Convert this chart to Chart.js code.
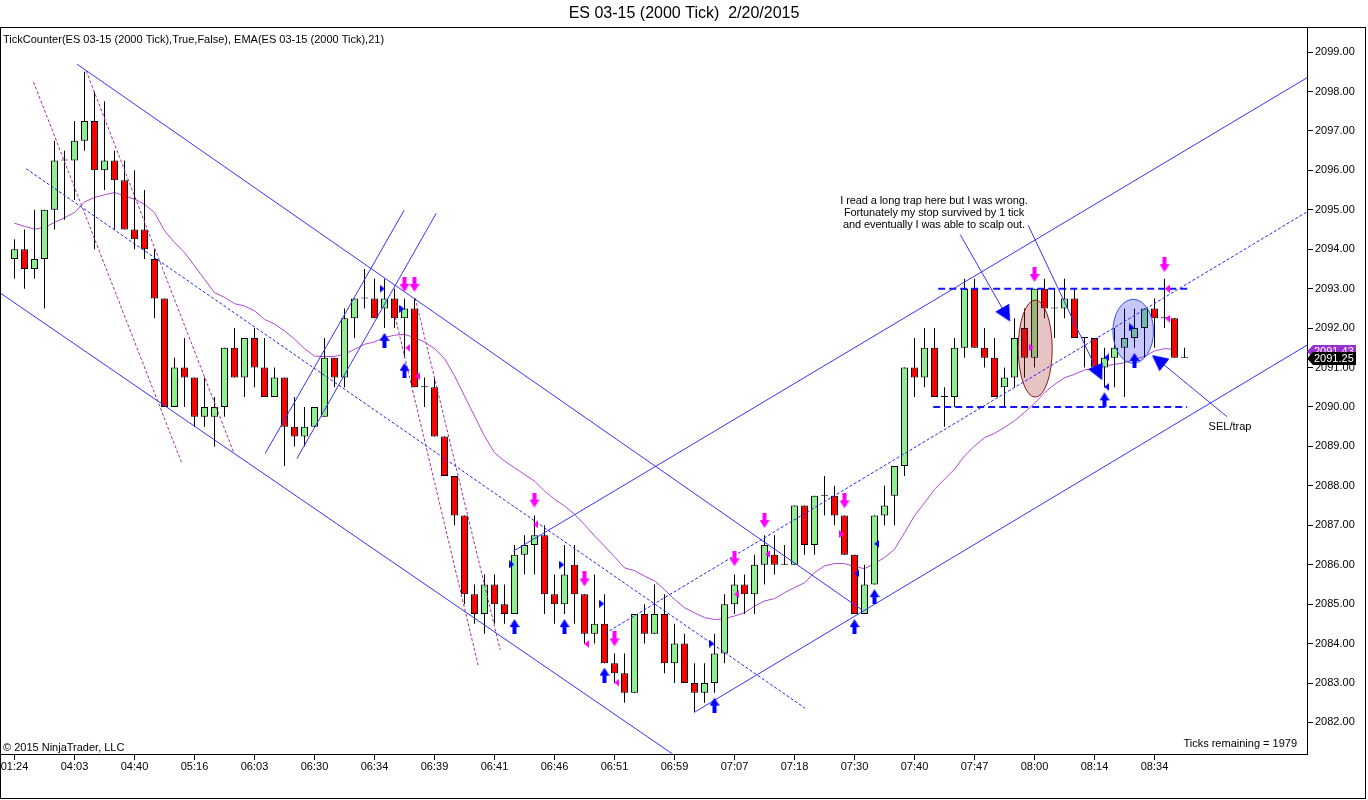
<!DOCTYPE html>
<html><head><meta charset="utf-8">
<script src="https://cdn.jsdelivr.net/npm/chart.js@4.4.1/dist/chart.umd.min.js"></script>
<style>html,body{margin:0;padding:0;background:#fff;overflow:hidden}canvas{display:block}</style>
</head><body>
<canvas id="c" width="1368" height="800"></canvas>
<script>
// ---------- DATA ----------
const chartTitle = 'ES 03-15 (2000 Tick)  2/20/2015';
const timeLabels = ['01:24','04:03','04:40','05:16','06:03','06:30','06:34','06:39','06:41','06:46','06:51','06:59','07:07','07:18','07:30','07:40','07:47','08:00','08:14','08:34'];
const labelStep = 6;

const opens = [2093.75,2094.0,2093.5,2093.75,2095.0,2096.25,2096.25,2096.75,2097.25,2096.0,
2096.25,2095.75,2094.5,2094.5,2093.75,2092.75,2090.0,2091.0,2090.75,2089.75,
2089.75,2090.0,2091.5,2090.75,2091.75,2091.0,2090.25,2090.75,2089.5,2089.25,
2089.5,2089.75,2091.25,2090.75,2092.25,2092.75,2092.75,2092.5,2092.75,2092.25,
2092.5,2090.5,2090.5,2089.25,2088.25,2087.25,2085.25,2084.75,2085.5,2085.0,
2084.75,2086.25,2086.5,2086.75,2085.25,2085.0,2086.0,2085.25,2084.25,2084.5,
2083.5,2083.25,2082.75,2084.75,2084.25,2084.75,2083.5,2084.0,2083.0,2082.75,
2083.0,2083.75,2085.0,2085.5,2085.25,2086.0,2086.25,2086.0,2086.0,2087.5,
2086.5,2087.75,2087.75,2087.25,2086.25,2084.75,2085.5,2087.25,2087.75,2088.5,
2091.0,2090.75,2091.5,2090.25,2090.25,2091.5,2093.0,2091.5,2091.25,2090.5,
2090.75,2092.0,2091.25,2093.0,2092.5,2092.5,2092.75,2091.75,2091.75,2091.0,
2091.25,2091.5,2091.75,2092.0,2092.5,2092.25,2092.25,2091.25];
const highs = [2094.25,2094.5,2095.0,2095.0,2096.75,2096.5,2097.25,2098.5,2098.0,2097.75,
2096.5,2096.25,2096.0,2095.5,2094.0,2092.75,2091.25,2091.75,2090.75,2090.75,
2090.25,2091.5,2092.0,2091.75,2092.0,2091.75,2091.0,2090.75,2090.25,2090.0,
2090.0,2091.75,2091.25,2092.5,2092.75,2093.5,2093.25,2093.25,2093.0,2092.75,
2092.75,2090.75,2090.75,2089.25,2088.25,2087.25,2085.5,2085.75,2085.75,2085.5,
2086.5,2086.75,2087.25,2087.0,2085.75,2086.5,2086.5,2085.25,2085.75,2085.25,
2083.75,2083.75,2084.75,2085.0,2085.5,2085.25,2084.5,2084.25,2083.5,2083.5,
2084.25,2085.25,2085.75,2085.75,2086.25,2086.75,2086.75,2086.5,2087.5,2087.5,
2087.75,2088.25,2088.0,2087.25,2086.25,2086.0,2087.25,2088.0,2088.5,2091.0,
2091.75,2092.0,2092.0,2090.5,2091.75,2093.25,2093.25,2092.0,2091.75,2091.0,
2092.25,2092.5,2093.0,2093.25,2093.0,2093.25,2093.0,2091.75,2091.75,2091.5,
2092.0,2092.5,2092.5,2092.5,2092.75,2093.25,2092.25,2091.5];
const lows = [2093.25,2093.0,2093.25,2092.5,2094.5,2094.75,2095.25,2096.5,2094.0,2095.5,
2094.5,2094.5,2094.0,2093.75,2092.25,2090.0,2090.0,2090.0,2089.5,2089.5,
2089.0,2089.75,2090.75,2090.25,2090.5,2090.25,2090.25,2088.5,2089.0,2089.0,
2089.5,2089.75,2090.5,2090.5,2091.75,2092.5,2092.25,2092.0,2092.0,2091.25,
2090.5,2090.0,2089.25,2088.25,2087.0,2085.0,2084.5,2084.25,2084.5,2084.5,
2084.75,2085.75,2085.75,2084.75,2084.5,2084.75,2084.5,2084.0,2084.0,2083.5,
2083.0,2082.5,2082.75,2084.0,2084.25,2083.25,2083.0,2083.0,2082.25,2082.5,
2082.75,2083.5,2084.75,2084.75,2084.75,2085.5,2085.75,2086.0,2086.0,2086.25,
2086.25,2087.25,2087.0,2086.25,2084.75,2084.75,2085.5,2087.0,2087.0,2088.25,
2090.25,2090.5,2090.25,2089.5,2090.0,2091.25,2091.5,2091.0,2090.25,2090.0,
2090.5,2090.75,2091.0,2092.25,2091.75,2092.25,2091.75,2091.0,2091.0,2090.5,
2090.5,2090.25,2091.5,2091.25,2091.5,2092.0,2091.25,2091.25];
const closes = [2094.0,2093.5,2093.75,2095.0,2096.25,2096.25,2096.75,2097.25,2096.0,2096.25,
2095.75,2094.5,2094.25,2094.0,2092.75,2090.0,2091.0,2090.75,2089.75,2090.0,
2090.0,2091.5,2090.75,2091.75,2091.0,2090.25,2090.75,2089.5,2089.25,2089.5,
2090.0,2091.25,2090.75,2092.25,2092.75,2092.75,2092.25,2092.75,2092.25,2092.5,
2090.5,2090.5,2089.25,2088.25,2087.25,2085.25,2084.75,2085.5,2085.0,2084.75,
2086.25,2086.5,2086.75,2085.25,2085.0,2085.75,2085.25,2084.25,2084.5,2083.5,
2083.25,2082.75,2084.75,2084.25,2084.75,2083.5,2084.0,2083.0,2082.75,2083.0,
2083.75,2085.0,2085.5,2085.25,2086.0,2086.5,2086.0,2086.0,2087.5,2086.5,
2087.75,2087.75,2087.25,2086.25,2084.75,2085.5,2087.25,2087.5,2088.5,2091.0,
2090.75,2091.5,2090.25,2090.25,2091.5,2093.0,2091.5,2091.25,2090.25,2090.75,
2091.75,2091.25,2093.0,2092.5,2092.5,2092.75,2091.75,2091.75,2091.0,2091.25,
2091.5,2091.75,2092.0,2092.5,2092.25,2092.25,2091.25,2091.25];
const ema21 = [2094.66,2094.58,2094.51,2094.55,2094.68,2094.80,2094.93,2095.20,2095.31,2095.38,
2095.44,2095.35,2095.27,2095.14,2094.93,2094.47,2094.17,2093.92,2093.58,2093.24,
2092.90,2092.78,2092.62,2092.56,2092.44,2092.22,2092.10,2091.93,2091.72,2091.48,
2091.29,2091.28,2091.28,2091.34,2091.46,2091.59,2091.65,2091.76,2091.82,2091.84,
2091.76,2091.65,2091.48,2091.23,2090.79,2090.28,2089.77,2089.26,2088.84,2088.63,
2088.46,2088.29,2088.12,2087.87,2087.66,2087.49,2087.28,2087.02,2086.73,2086.47,
2086.20,2085.92,2085.85,2085.71,2085.59,2085.37,2085.12,2084.91,2084.78,2084.66,
2084.61,2084.63,2084.70,2084.78,2084.95,2085.08,2085.14,2085.29,2085.42,2085.54,
2085.80,2085.97,2086.03,2086.03,2085.95,2085.90,2086.03,2086.18,2086.39,2086.81,
2087.24,2087.57,2087.91,2088.17,2088.42,2088.76,2089.01,2089.22,2089.33,2089.48,
2089.65,2089.86,2090.09,2090.36,2090.57,2090.74,2090.83,2090.94,2090.98,2091.04,
2091.08,2091.12,2091.21,2091.28,2091.42,2091.48,2091.46];
const emaLastValue = 2091.43;

// markers: [bar index, price]
const sellArrows = [[39,2093.11],[40,2093.11],[52,2087.64],[57,2085.64],[60,2084.12],[72,2086.15],[75,2087.12],[83,2087.62],[102,2093.36],[115,2093.61]];
const buyArrows = [[37,2091.69],[39,2090.93],[50,2084.43],[55,2084.43],[59,2083.2],[70,2082.44],[84,2084.43],[86,2085.19],[109,2090.18],[112,2091.18]];
const blueRightTri = [[36.77,2093.0],[38.72,2092.49],[49.72,2086.01],[54.72,2086.0],[58.72,2085.01],[69.72,2084.0],[111.72,2092.02]];
const blueLeftTri = [[84.22,2085.78],[86.22,2086.53],[109.22,2091.26],[109.22,2090.51]];
const magLeftTri = [[39.32,2091.5],[40.32,2090.78],[52.12,2087.02],[57.22,2083.99],[60.22,2083.01],[72.22,2085.25],[75.32,2086.27],[115.27,2093.0],[115.32,2092.24]];
const magRightTri = [[82.72,2086.78],[101.67,2091.51]];

// drawn lines: endpoints [bar index, price]
const downUpper = [[6.27,2098.69],[84.77,2084.85]];
const downLower = [[-1.43,2092.89],[65.81,2081.2]];
const downMid = [[1.17,2096.04],[79.07,2082.36]];
const magLineA = [[1.9,2098.24],[16.74,2088.57]];
const magLineB = [[7.17,2098.52],[21.9,2088.86]];
const magLineC = [[38.07,2092.28],[46.4,2083.41]];
const magLineD = [[40.07,2092.76],[48.57,2083.84]];
const steepE = [[25.07,2088.82],[38.97,2094.99]];
const steepF = [[28.24,2088.69],[42.17,2094.91]];
const upUpper = [[49.87,2086.34],[129.27,2098.35]];
const upLower = [[68.07,2082.27],[129.27,2091.57]];
const upMid = [[59.07,2084.26],[129.27,2094.95]];
const rangeHigh = [[92.37,2093.0],[117.57,2093.0]];
const rangeLow = [[91.87,2090.0],[117.27,2090.0]];
const noteLine1 = [[94.57,2094.37],[99.17,2092.33]];
const noteLine2 = [[101.37,2094.61],[108.37,2090.86]];
const noteLine3 = [[121.27,2089.75],[114.37,2091.19]];
const arrowHeads = [[99.17,2092.34],[108.43,2090.86],[114.37,2091.19]];
const arrowHeadAngles = [60.4,64.7,218.3];
// ellipses: [center index, center price, half width (bars), half height (points)]
const ellipseBrown = [102.07,2091.48,1.7,1.23];
const ellipseBlue = [111.87,2091.92,2.03,0.81];

const noteText = ['I read a long trap here but I was wrong.','Fortunately my stop survived by 1 tick','and eventually I was able to scalp out.'];
const indicatorText = 'TickCounter(ES 03-15 (2000 Tick),True,False), EMA(ES 03-15 (2000 Tick),21)';

// ---------- BUILD ----------
const FONT = '"Liberation Sans", Arial, sans-serif';
Chart.defaults.font.family = FONT;
const idx = opens.map((_, i) => i);
const pts = a => a.map(p => ({x: p[0], y: p[1]}));
const bodyColors = idx.map(i => closes[i] > opens[i] ? '#90EE90' : (closes[i] < opens[i] ? '#FF0000' : '#000000'));

function mk(w, h, fn) { const c = document.createElement('canvas'); c.width = w; c.height = h; const g = c.getContext('2d'); fn(g); return c; }
const poly = (g, color, p) => { g.fillStyle = color; g.beginPath(); g.moveTo(p[0][0], p[0][1]); for (let k = 1; k < p.length; k++) g.lineTo(p[k][0], p[k][1]); g.closePath(); g.fill(); };
const imgDown = mk(10, 15, g => poly(g, '#FF00FF', [[3,0],[7,0],[7,7],[10,7],[5,15],[0,7],[3,7]]));
const imgUp = mk(10, 15, g => poly(g, '#0000FF', [[3,15],[7,15],[7,8],[10,8],[5,0],[0,8],[3,8]]));
const imgBlueR = mk(5, 8, g => poly(g, '#0000FF', [[0,0],[5,4],[0,8]]));
const imgBlueL = mk(5, 8, g => poly(g, '#0000FF', [[5,0],[0,4],[5,8]]));
const imgMagL = mk(5, 8, g => poly(g, '#FF00FF', [[5,0],[0,4],[5,8]]));
const imgMagR = mk(5, 8, g => poly(g, '#FF00FF', [[0,0],[5,4],[0,8]]));
const imgHead = mk(16, 16, g => poly(g, '#0000FF', [[0,0],[16,8],[0,16]]));

const lineDs = (data, color, dash, width) => ({type: 'line', data: pts(data), borderColor: color, borderWidth: width || 1, borderDash: dash || [], pointRadius: 0, fill: false, tension: 0, order: 1});
const markDs = (data, img, rot) => ({type: 'line', data: pts(data), showLine: false, pointStyle: img, pointRadius: 5, pointBorderWidth: 0, pointRotation: rot || 0, order: 0});

const BLUE = '#3333FF', MAG = '#A030A0';
const datasets = [
  {type: 'line', label: 'ema', data: idx.slice(0, ema21.length).map(i => ({x: i, y: ema21[i]})), borderColor: '#B245D6', borderWidth: 1, pointRadius: 0, tension: 0, fill: false, order: 4},
  {type: 'bar', label: 'wicks', data: idx.map(i => ({x: i, y: [lows[i], highs[i]]})), backgroundColor: '#000', borderWidth: 0, grouped: false, maxBarThickness: 1, inflateAmount: 0, order: 3},
  {type: 'bar', label: 'bodies', data: idx.map(i => ({x: i, y: [Math.min(opens[i], closes[i]), Math.max(opens[i], closes[i])]})), backgroundColor: bodyColors, borderColor: '#000', borderWidth: 1, borderSkipped: false, grouped: false, maxBarThickness: 7, minBarLength: 1, inflateAmount: 0, order: 2},
  lineDs(downUpper, BLUE), lineDs(downLower, BLUE), lineDs(downMid, '#2222FF', [3, 2]),
  lineDs(magLineA, MAG, [3, 2]), lineDs(magLineB, MAG, [3, 2]), lineDs(magLineC, MAG, [3, 2]), lineDs(magLineD, MAG, [3, 2]),
  lineDs(steepE, BLUE), lineDs(steepF, BLUE),
  lineDs(upUpper, BLUE), lineDs(upLower, BLUE), lineDs(upMid, '#2222FF', [3, 2]),
  lineDs(rangeHigh, '#1515FF', [7, 4], 2), lineDs(rangeLow, '#1515FF', [7, 4], 2),
  lineDs(noteLine1, BLUE), lineDs(noteLine2, BLUE), lineDs(noteLine3, BLUE),
  markDs(sellArrows, imgDown), markDs(buyArrows, imgUp),
  markDs(blueRightTri, imgBlueR), markDs(blueLeftTri, imgBlueL),
  markDs(magLeftTri, imgMagL), markDs(magRightTri, imgMagR),
  markDs(arrowHeads, imgHead, arrowHeadAngles)
];

const overlay = {
  id: 'overlay',
  afterDatasetDraw(chart, args) {
    if (chart.data.datasets[args.index].label !== 'bodies') return;
    const {ctx, scales: {x, y}, chartArea: a} = chart;
    ctx.save();
    ctx.beginPath(); ctx.rect(a.left, a.top, a.right - a.left, a.bottom - a.top); ctx.clip();
    [[ellipseBrown, 'rgba(165,42,42,0.28)', '#8B1A1A'], [ellipseBlue, 'rgba(20,20,235,0.24)', '#3355EE']].forEach(([e, f, s]) => {
      const cx = x.getPixelForValue(e[0]), cy = y.getPixelForValue(e[1]);
      const rx = Math.abs(x.getPixelForValue(e[0] + e[2]) - cx), ry = Math.abs(y.getPixelForValue(e[1] + e[3]) - cy);
      ctx.beginPath(); ctx.ellipse(cx, cy, rx, ry, 0, 0, Math.PI * 2);
      ctx.fillStyle = f; ctx.fill(); ctx.lineWidth = 1; ctx.strokeStyle = s; ctx.stroke();
    });
    ctx.restore();
  },
  afterDraw(chart) {
    const {ctx, scales: {x, y}, chartArea: a} = chart;
    ctx.save();
    ctx.textBaseline = 'middle';
    ctx.fillStyle = '#000';
    ctx.font = '11px ' + FONT;
    ctx.textAlign = 'left';
    ctx.fillText(indicatorText, 3, 39.5);
    ctx.fillText('\u00A9 2015 NinjaTrader, LLC', 3, 747.5);
    ctx.textAlign = 'right';
    ctx.fillText('Ticks remaining = 1979', 1297, 743.5);
    ctx.textAlign = 'center';
    ctx.fillText('SEL/trap', 1230, 426.5);
    try { ctx.letterSpacing = '-0.1px'; } catch (e) {}
    noteText.forEach((t, k) => ctx.fillText(t, 934, 201 + k * 12));
    try { ctx.letterSpacing = '0px'; } catch (e) {}
    // price tags on the axis
    const tag = (val, bg) => {
      const yc = Math.round(y.getPixelForValue(val)) + 0.5, x0 = a.right;
      ctx.fillStyle = bg; ctx.beginPath();
      ctx.moveTo(x0, yc); ctx.lineTo(x0 + 6, yc - 6.5); ctx.lineTo(x0 + 49, yc - 6.5); ctx.lineTo(x0 + 49, yc + 6.5); ctx.lineTo(x0 + 6, yc + 6.5); ctx.closePath(); ctx.fill();
      ctx.fillStyle = '#fff'; ctx.textAlign = 'left'; ctx.font = '11px ' + FONT;
      ctx.fillText(val.toFixed(2), x0 + 7, yc + 0.5);
    };
    tag(emaLastValue, '#9932CC');
    tag(closes[closes.length - 1], '#000');
    // outer frame
    ctx.strokeStyle = '#000'; ctx.lineWidth = 1;
    ctx.strokeRect(0.5, 27.5, 1365, 771);
    ctx.restore();
  }
};

new Chart(document.getElementById('c'), {
  type: 'bar',
  data: {datasets},
  options: {
    responsive: false, animation: false, events: [], devicePixelRatio: 1,
    layout: {padding: 0, autoPadding: false},
    plugins: {
      legend: {display: false}, tooltip: {enabled: false},
      title: {display: true, text: chartTitle, color: '#000', font: {family: FONT, size: 16, weight: 'normal'}, padding: {top: 4, bottom: 4}}
    },
    scales: {
      x: {
        type: 'linear', min: -1.45, max: 129.25, offset: false,
        grid: {drawOnChartArea: false, drawTicks: true, tickLength: 6, color: '#000', offset: false},
        border: {display: true, color: '#000', width: 1},
        ticks: {autoSkip: false, maxRotation: 0, minRotation: 0, padding: 0, color: '#000', font: {family: FONT, size: 11}, callback: (v, i) => timeLabels[i]},
        afterBuildTicks: s => { s.ticks = timeLabels.map((_, k) => ({value: k * labelStep})); },
        afterFit: s => { s.height = 46; s.paddingLeft = 0; s.paddingRight = 0; }
      },
      y: {
        type: 'linear', position: 'right', min: 2081.2, max: 2099.63,
        grid: {drawOnChartArea: false, drawTicks: true, tickLength: 6, color: '#000'},
        border: {display: true, color: '#000', width: 1},
        ticks: {stepSize: 1, includeBounds: false, padding: 2, color: '#000', font: {family: FONT, size: 11}, callback: v => Number(v).toFixed(2)},
        afterFit: s => { s.width = 61; s.paddingTop = 0; s.paddingBottom = 0; }
      }
    }
  },
  plugins: [overlay]
});
</script>
</body></html>
